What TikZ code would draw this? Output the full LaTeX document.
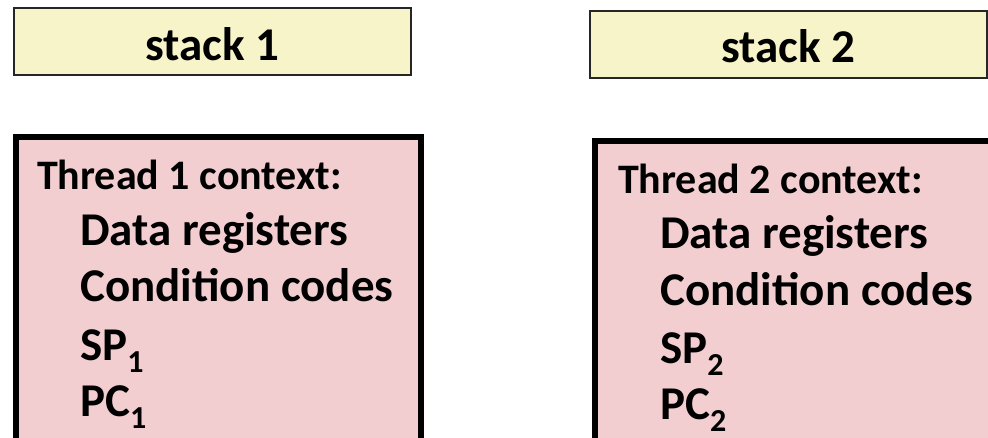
\documentclass[tikz,border=0pt]{standalone}
\usepackage{fontspec}
\setmainfont{Carlito}
\definecolor{stackfill}{RGB}{248,244,201}
\definecolor{ctxfill}{RGB}{243,206,208}
\newcommand{\subnum}[1]{\raisebox{-0.26em}{\fontsize{32}{32}\selectfont #1}}
\begin{document}
\begin{tikzpicture}[x=1pt,y=-1pt,
  stackbox/.style={draw=black!85,line width=1.3pt,fill=stackfill,minimum width=397pt,minimum height=67pt,inner sep=0pt},
  stacklbl/.style={font=\fontsize{47}{47}\selectfont\bfseries,inner sep=0pt},
  ctxbox/.style={draw=black,line width=6pt,fill=ctxfill},
  headlbl/.style={font=\fontsize{42}{42}\selectfont\bfseries,inner sep=0pt,anchor=base west},
  itemlbl/.style={font=\fontsize{47}{47}\selectfont\bfseries,inner sep=0pt,anchor=base west}]
\clip (0,0) rectangle (988,438);
\fill[white] (0,0) rectangle (988,438);
% stacks
\node[stackbox] (s1) at (212.5,41.5) {};
\node[stacklbl,anchor=base] (s1t) at (212.5,61) {stack 1};
\node[stackbox] (s2) at (788.5,44.5) {};
\node[stacklbl,anchor=base] (s2t) at (788.5,63) {stack 2};
% contexts
\draw[ctxbox] (16,137) rectangle (421,460);
\draw[ctxbox] (595,141) rectangle (1000,460);
\node[headlbl] (h1) at (37,190) {Thread 1 context:};
\node[itemlbl] (d1) at (80,246) {Data registers};
\node[itemlbl] (c1) at (80,302) {Condition codes};
\node[itemlbl] (sp1) at (80,360) {SP\subnum{1}};
\node[itemlbl] (pc1) at (80,416.5) {PC\subnum{1}};
\node[headlbl] (h2) at (618,194) {Thread 2 context:};
\node[itemlbl] (d2) at (660,249) {Data registers};
\node[itemlbl] (c2) at (660,306) {Condition codes};
\node[itemlbl] (sp2) at (660,363) {SP\subnum{2}};
\node[itemlbl] (pc2) at (660,419.5) {PC\subnum{2}};
\end{tikzpicture}
\end{document}
